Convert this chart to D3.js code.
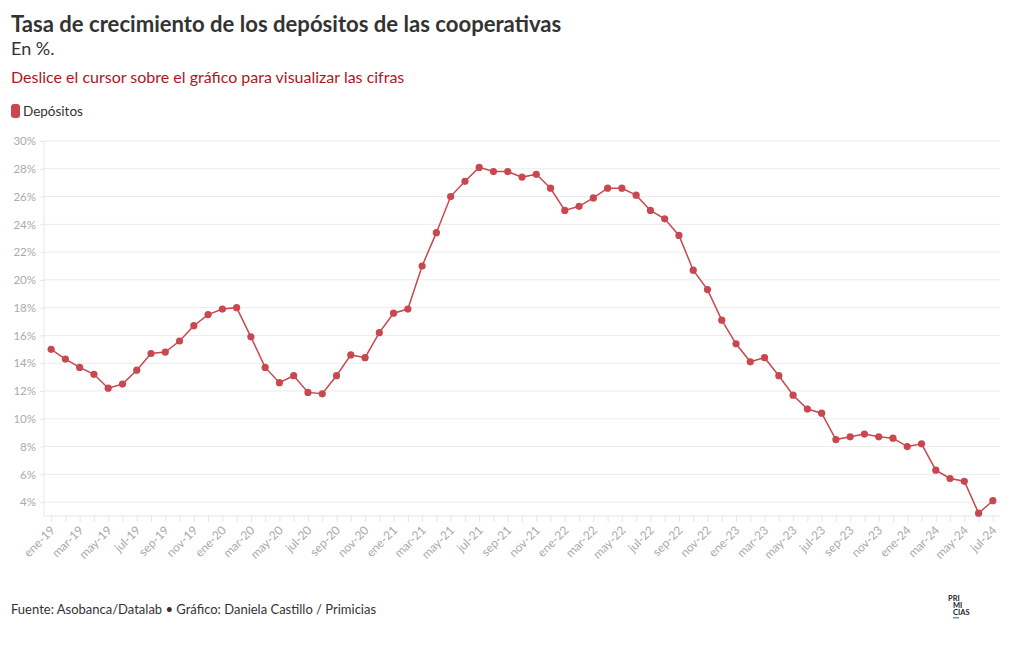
<!DOCTYPE html>
<html>
<head>
<meta charset="utf-8">
<script src="https://cdn.jsdelivr.net/npm/d3@7"></script>
<style>
body { margin:0; background:#fff; font-family: "Lato", "Open Sans", sans-serif; }
svg text { font-family: "Lato", "Open Sans", sans-serif; }
</style>
</head>
<body>
<svg id="chart" width="1020" height="650"></svg>
<script>
const months = ["ene","feb","mar","abr","may","jun","jul","ago","sep","oct","nov","dic"];
const years = ["19","20","21","22","23","24"];
const categories = [];
years.forEach(yr => months.forEach(m => categories.push(m + "-" + yr)));
categories.splice(67); // ene-19 .. jul-24

const depositos = [
  15.0,14.3,13.7,13.2,12.2,12.5,13.5,14.7,14.8,15.6,16.7,17.5,
  17.9,18.0,15.9,13.7,12.6,13.1,11.9,11.8,13.1,14.6,14.4,16.2,
  17.6,17.9,21.0,23.4,26.0,27.1,28.1,27.8,27.8,27.4,27.6,26.6,
  25.0,25.3,25.9,26.6,26.6,26.1,25.0,24.4,23.2,20.7,19.3,17.1,
  15.4,14.1,14.4,13.1,11.7,10.7,10.4,8.5,8.7,8.9,8.7,8.6,
  8.0,8.2,6.3,5.7,5.5,3.2,4.1
];
const yTicks = [4,6,8,10,12,14,16,18,20,22,24,26,28,30];

const red = "#c9474f";
const svg = d3.select("#chart");

svg.append("text").attr("x",11).attr("y",32).attr("font-size",22.1).attr("font-weight",700)
  .attr("fill","#333").text("Tasa de crecimiento de los depósitos de las cooperativas");
svg.append("text").attr("x",11).attr("y",55).attr("font-size",18).attr("fill","#333").text("En %.");
svg.append("text").attr("x",11).attr("y",83).attr("font-size",16).attr("fill","#b0161e")
  .text("Deslice el cursor sobre el gráfico para visualizar las cifras");
svg.append("rect").attr("x",11).attr("y",104).attr("width",9).attr("height",14).attr("rx",3).attr("fill",red);
svg.append("text").attr("x",23).attr("y",116).attr("font-size",13.5).attr("fill","#333").text("Depósitos");

const mLeft = 44, mRight = 1000, mTop = 141, mBottom = 516;
const x = d3.scalePoint().domain(categories).range([mLeft, mRight]).padding(0.5);
const y = d3.scaleLinear().domain([3,30]).range([mBottom, mTop]);

// gridlines
svg.append("g").selectAll("line").data(yTicks).join("line")
  .attr("x1",mLeft).attr("x2",mRight).attr("y1",d=>y(d)).attr("y2",d=>y(d))
  .attr("stroke","#ebebeb").attr("stroke-width",1);

// y axis
const yAxis = svg.append("g").attr("transform",`translate(${mLeft},0)`)
  .call(d3.axisLeft(y).tickValues(yTicks).tickFormat(d=>d+"%").tickSize(4).tickPadding(4));
yAxis.select(".domain").attr("stroke","#e6e6e6").attr("d",`M0,${mTop}V${mBottom}`);
yAxis.selectAll(".tick line").attr("stroke","#e6e6e6");
yAxis.selectAll(".tick text").attr("fill","#aaa").attr("font-size",11.5);

// x axis
const xAxis = svg.append("g").attr("transform",`translate(0,${mBottom})`)
  .call(d3.axisBottom(x).tickSize(6).tickFormat((d,i)=> i%2===0 ? d : ""));
xAxis.select(".domain").attr("stroke","#e6e6e6").attr("d",`M${mLeft},0H${mRight}`);
xAxis.selectAll(".tick line").attr("stroke","#e6e6e6");
xAxis.selectAll(".tick text").attr("fill","#aaa").attr("font-size",12)
  .attr("text-anchor","end").attr("dy",0).attr("y",0)
  .attr("transform","translate(4,15) rotate(-45)");

// line
const line = d3.line().x((d,i)=>x(categories[i])).y(d=>y(d));
svg.append("path").datum(depositos).attr("d",line).attr("fill","none")
  .attr("stroke",red).attr("stroke-width",1.5);
svg.append("g").selectAll("circle").data(depositos).join("circle")
  .attr("cx",(d,i)=>x(categories[i])).attr("cy",d=>y(d)).attr("r",3.6).attr("fill",red);

// footer
svg.append("text").attr("x",11).attr("y",614).attr("font-size",13).attr("fill","#333")
  .text("Fuente: Asobanca/Datalab • Gráfico: Daniela Castillo / Primicias");
const logo = svg.append("g").attr("font-size",7.5).attr("font-weight",700).attr("fill","#222");
logo.append("text").attr("x",948).attr("y",601).text("PRI");
logo.append("text").attr("x",953).attr("y",608).text("MI");
logo.append("text").attr("x",953).attr("y",615).text("CIAS");
svg.append("rect").attr("x",953).attr("y",617).attr("width",6).attr("height",1.5).attr("fill","#4aa3df");
</script>
</body>
</html>
